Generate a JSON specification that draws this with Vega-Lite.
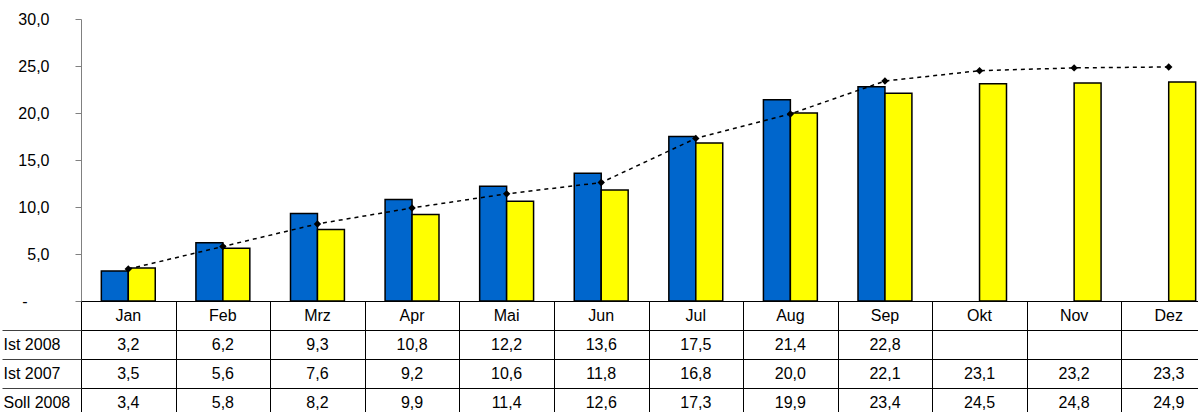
{
  "$schema": "https://vega.github.io/schema/vega-lite/v6.json",
  "padding": {"left": 1, "top": 11, "right": 0, "bottom": 0},
  "spacing": 0,
  "bounds": "flush",
  "config": {
    "font": "Liberation Sans",
    "view": {"stroke": null},
    "locale": {"number": {"decimal": ",", "thousands": ".", "grouping": [3], "currency": ["", " €"]}}
  },
  "datasets": {
    "d": [
      {"month": "Jan", "ist2008": 3.2, "ist2007": 3.5, "soll2008": 3.4},
      {"month": "Feb", "ist2008": 6.2, "ist2007": 5.6, "soll2008": 5.8},
      {"month": "Mrz", "ist2008": 9.3, "ist2007": 7.6, "soll2008": 8.2},
      {"month": "Apr", "ist2008": 10.8, "ist2007": 9.2, "soll2008": 9.9},
      {"month": "Mai", "ist2008": 12.2, "ist2007": 10.6, "soll2008": 11.4},
      {"month": "Jun", "ist2008": 13.6, "ist2007": 11.8, "soll2008": 12.6},
      {"month": "Jul", "ist2008": 17.5, "ist2007": 16.8, "soll2008": 17.3},
      {"month": "Aug", "ist2008": 21.4, "ist2007": 20.0, "soll2008": 19.9},
      {"month": "Sep", "ist2008": 22.8, "ist2007": 22.1, "soll2008": 23.4},
      {"month": "Okt", "ist2008": null, "ist2007": 23.1, "soll2008": 24.5},
      {"month": "Nov", "ist2008": null, "ist2007": 23.2, "soll2008": 24.8},
      {"month": "Dez", "ist2008": null, "ist2007": 23.3, "soll2008": 24.9}
    ]
  },
  "vconcat": [
    {
      "width": 1135,
      "height": 282,
      "data": {"name": "d"},
      "layer": [
        {
          "transform": [
            {"fold": ["ist2008", "ist2007"], "as": ["series", "value"]},
            {"filter": "datum.value != null"}
          ],
          "mark": {"type": "bar", "stroke": "#000000", "strokeWidth": 1.5},
          "encoding": {
            "x": {"field": "month", "type": "nominal", "sort": null,
                  "axis": {"title": null, "labels": false, "ticks": false, "domain": true, "domainColor": "#000000", "grid": false},
                  "scale": {"paddingInner": 0.43, "paddingOuter": 0.215}},
            "xOffset": {"field": "series", "type": "nominal", "scale": {"domain": ["ist2008", "ist2007"], "paddingInner": 0, "paddingOuter": 0}},
            "y": {"field": "value", "type": "quantitative",
                  "scale": {"domain": [0, 30], "nice": false},
                  "axis": {"title": null, "values": [0, 5, 10, 15, 20, 25, 30], "grid": false,
                           "domainColor": "#808080", "tickColor": "#808080", "tickSize": 6,
                           "labelPadding": {"condition": {"test": "datum.value == 0", "value": 48}, "value": 26},
                           "labelFontSize": 16, "labelColor": "#000000",
                           "labelExpr": "datum.value == 0 ? '-' : replace(format(datum.value, '.1f'), '.', ',')"}},
            "color": {"field": "series", "type": "nominal", "legend": null,
                      "scale": {"domain": ["ist2008", "ist2007"], "range": ["#0066CC", "#FFFF00"]}}
          }
        },
        {
          "mark": {"type": "line", "color": "#000000", "strokeWidth": 1.5, "strokeDash": [4, 4],
                   "point": {"shape": "diamond", "filled": true, "color": "#000000", "size": 55}},
          "encoding": {
            "x": {"field": "month", "type": "nominal", "sort": null},
            "y": {"field": "soll2008", "type": "quantitative"}
          }
        }
      ]
    },
    {
      "width": 1135,
      "height": 116,
      "data": {"name": "d"},
      "encoding": {
        "x": {"field": "month", "type": "nominal", "sort": null,
              "axis": {"orient": "top", "title": null, "labels": false, "ticks": false, "domain": false,
                       "grid": true, "tickBand": "extent", "gridColor": "#000000", "gridOpacity": 1, "gridWidth": 1}}
      },
      "layer": [
        {
          "mark": {"type": "text", "fontSize": 16, "color": "#000000"},
          "encoding": {
            "y": {"datum": "hdr", "type": "nominal",
                  "scale": {"domain": ["hdr", "ist2008", "ist2007", "soll2008"]},
                  "axis": {"title": null, "orient": "left", "grid": true,
                           "gridColor": "#000000", "gridOpacity": 1, "tickSize": 79, "tickColor": "#404040",
                           "tickOffset": 14.5, "labelOffset": -14.5,
                           "domain": false, "labelAlign": "left", "labelPadding": -1, "labelFontSize": 16,
                           "labelColor": "#000000",
                           "labelExpr": "datum.value == 'ist2008' ? 'Ist 2008' : datum.value == 'ist2007' ? 'Ist 2007' : datum.value == 'soll2008' ? 'Soll 2008' : ''"}},
            "text": {"field": "month"}
          }
        },
        {
          "transform": [
            {"fold": ["ist2008", "ist2007", "soll2008"], "as": ["row", "value"]},
            {"filter": "datum.value != null"}
          ],
          "mark": {"type": "text", "fontSize": 16, "color": "#000000"},
          "encoding": {
            "y": {"field": "row", "type": "nominal"},
            "text": {"field": "value", "type": "quantitative", "format": ".1f"}
          }
        }
      ]
    }
  ]
}
